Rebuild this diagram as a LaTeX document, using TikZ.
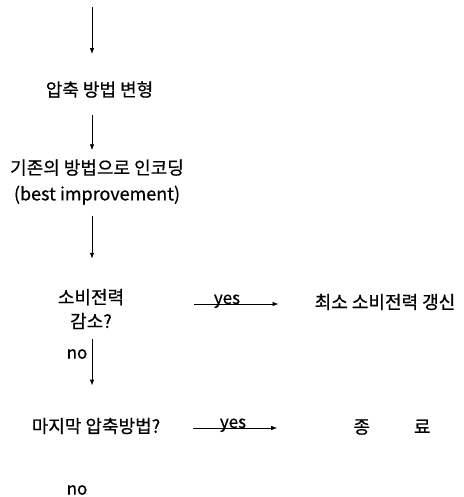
\documentclass[tikz,border=0pt]{standalone}
\usepackage{fontspec}
\setmainfont{Noto Sans CJK KR}[FakeBold=0.6]
\usetikzlibrary{arrows.meta,calc}
\begin{document}
\begin{tikzpicture}[x=1pt,y=-1pt,
  txt/.style={inner sep=0pt,font=\fontsize{18}{26}\selectfont,align=center},
  lab/.style={inner sep=0pt,font=\fontsize{17}{18}\selectfont},
  arr/.style={line width=0.8pt,-{Latex[length=6pt,width=4.5pt]}}]
\useasboundingbox (0,0) rectangle (463,497);
\coordinate (top) at (92,7);
\node[txt] (comp) at (99.5,89.5) {압축 방법 변형};
\node[txt] (enc) at (97,182) {기존의 방법으로 인코딩\\(best improvement)};
\node[txt,font=\fontsize{18}{24}\selectfont] (dec1) at (91,309) {소비전력\\감소?};
\node[txt] (upd) at (385,302) {최소 소비전력 갱신};
\node[txt] (dec2) at (96,426) {마지막 압축방법?};
\node[txt] (fin) at (392,427) {종\hspace{44pt}료};
\node[lab] (nolab) at (77,354) {no};
\node[lab] (no2) at (77,490) {no};
\node[lab,anchor=base] (y1) at (227,304) {yes};
\node[lab,anchor=base] (y2) at (233,428) {yes};
\draw[arr, shorten >=27pt] (top) -- (top |- comp.north);
\draw[arr, shorten <=17pt, shorten >=9pt] (comp.south -| top) -- (enc.north -| top);
\draw[arr, shorten <=11pt, shorten >=30pt] (enc.south -| top) -- (dec1.north -| top);
\draw[arr, shorten <=10pt, shorten >=32pt] (dec1.south -| top) -- (dec2.north -| top);
\draw[arr, shorten <=70pt, shorten >=36pt] ($(dec1.east |- upd.west)+(0,2)$) -- ($(upd.west)+(0,2)$);
\draw[arr, shorten <=33pt, shorten >=76pt] ($(dec2.east)+(0,2)$) -- ($(dec2.east -| fin.west)+(0,2)$);
\end{tikzpicture}
\end{document}
